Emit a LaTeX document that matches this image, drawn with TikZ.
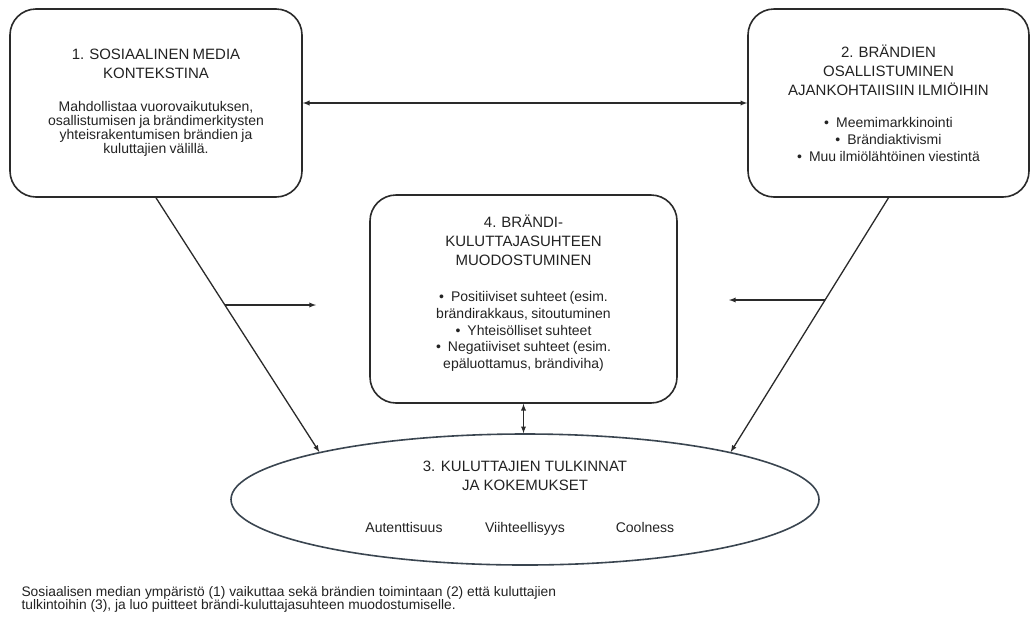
\documentclass[tikz,border=0pt]{standalone}
\usepackage{fontspec}
\setmainfont{Liberation Sans}
\usetikzlibrary{arrows,shapes.geometric,math,calc}

\definecolor{edge}{HTML}{2A2A2A}
\definecolor{rim}{HTML}{3A4550}
\definecolor{ink}{HTML}{222222}

\newcommand{\capfont}{\fontsize{15}{19}\selectfont}
\newcommand{\txtfont}{\fontsize{14}{14}\selectfont}
\newcommand{\lstfont}{\fontsize{14}{16.6}\selectfont}
\newcommand{\notefont}{\fontsize{13.8}{13}\selectfont}
\newcommand{\bul}{\textbullet\hspace{7pt}}

\begin{document}
\begin{tikzpicture}[>=latex,x=1pt,y=-1pt,
	box/.style={draw=edge,line width=1.6pt,rounded corners=26pt,
		text=ink,align=center,minimum height=188pt},
	arr/.style={draw=edge,line width=1.3pt}]

\useasboundingbox (0,0) rectangle (1032,619);

\tikzmath{
	real \cx, \cy;
	\cx = 525;
	\cy = 499.5;
}

% the three boxes
\node (b1) at (156,103) [box,minimum width=292pt,text width=270pt]
	{{\capfont 1. SOSIAALINEN MEDIA\\KONTEKSTINA\par}\vspace{19pt}
	{\txtfont Mahdollistaa vuorovaikutuksen,\\osallistumisen ja brändimerkitysten\\
	yhteisrakentumisen brändien ja\\kuluttajien välillä.\par}};

\node (b2) at (888.5,103) [box,minimum width=281pt,text width=262pt]
	{{\capfont 2. BRÄNDIEN\\OSALLISTUMINEN\\AJANKOHTAIISIIN ILMIÖIHIN\par}\vspace{16pt}
	{\lstfont \bul Meemimarkkinointi\\\bul Brändiaktivismi\\
	\bul Muu ilmiölähtöinen viestintä\par}};

\node (b4) at (523.5,299) [box,minimum width=307pt,minimum height=208pt,text width=287pt]
	{{\capfont 4. BRÄNDI-\\KULUTTAJASUHTEEN\\MUODOSTUMINEN\par}\vspace{20pt}
	{\lstfont \bul Positiiviset suhteet (esim.\\brändirakkaus, sitoutuminen\\
	\bul Yhteisölliset suhteet\\\bul Negatiiviset suhteet (esim.\\
	epäluottamus, brändiviha)\par}\vspace{12pt}};

% the ellipse
\node (kul) at ({\cx},{\cy}) [ellipse,draw=rim,line width=1.6pt,
	minimum width=588pt,minimum height=131pt] {};
\node (kulttl) at ({\cx},476) [text=ink,align=center,font=\capfont]
	{3. KULUTTAJIEN TULKINNAT\\JA KOKEMUKSET};
\node (aut) at (404,532) [anchor=base,text=ink,font=\lstfont] {Autenttisuus};
\node (vii) at ({\cx},532) [anchor=base,text=ink,font=\lstfont] {Viihteellisyys};
\node (cool) at (645,532) [anchor=base,text=ink,font=\lstfont] {Coolness};

% connectors
\draw[arr,<->] (b1) -- (b2);
\draw[arr,->] (b1.south) -- (kul.167) coordinate[pos=0.42] (m1);
\draw[arr,->] (b2.south) -- (kul.13) coordinate[pos=0.40] (m2);
\draw[arr,<->] (b4.south) -- (b4.south |- kul.north);

\coordinate (e1) at (316,305);
\coordinate (e2) at (729,300);
\draw[arr,->] (e1 -| m1) -- (e1);
\draw[arr,->] (e2 -| m2) -- (e2);

% footnote
\node (note) at (18,599) [anchor=west,align=left,text=ink,font=\notefont]
	{Sosiaalisen median ympäristö (1) vaikuttaa sekä brändien toimintaan (2) että kuluttajien\\
	tulkintoihin (3), ja luo puitteet brändi-kuluttajasuhteen muodostumiselle.};

\end{tikzpicture}
\end{document}
